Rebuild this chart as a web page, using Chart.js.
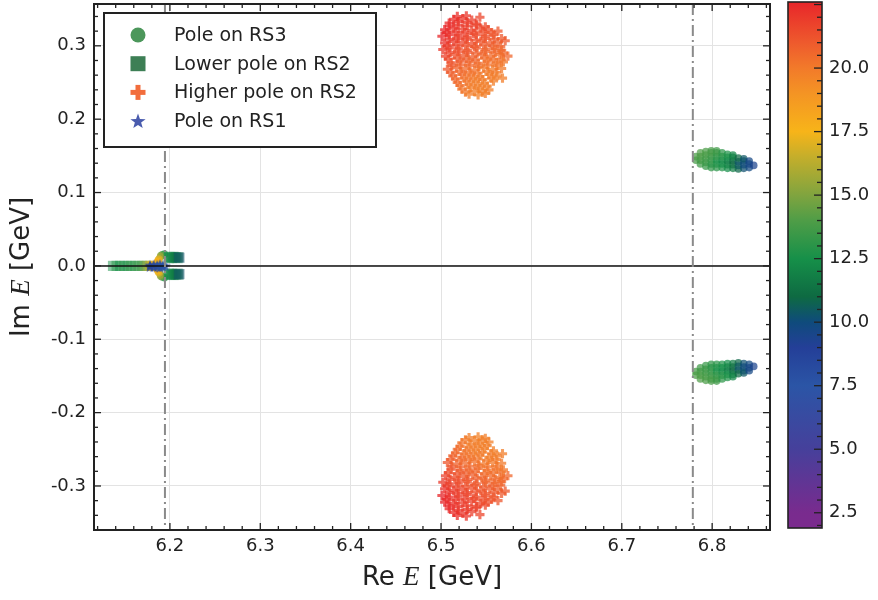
<!DOCTYPE html>
<html>
<head>
<meta charset="utf-8">
<title>Pole positions</title>
<script src="https://cdn.jsdelivr.net/npm/chart.js@4.4.0/dist/chart.umd.min.js"></script>
<style>
  body { margin: 0; background: #fff; }
  #wrap { position: relative; width: 878px; height: 600px; }
  #wrap canvas { position: absolute; top: 0; }
  #poles { left: 0; }
  #cbar { left: 770px; }
</style>
</head>
<body>
<div id="wrap">
  <canvas id="poles" width="878" height="600"></canvas>
  <canvas id="cbar" width="108" height="600"></canvas>
</div>
<script>
// [Re E, Im E, colour value]; poles with Im E > 0 also get their conjugate partner
const rs3Poles = [
  [6.782, 0.144, 13.8], [6.782, 0.149, 13.9],
  [6.787, 0.139, 13.6], [6.787, 0.144, 13.7], [6.787, 0.149, 13.9], [6.787, 0.154, 14.0],
  [6.793, 0.136, 13.4], [6.793, 0.141, 13.5], [6.793, 0.146, 13.6], [6.793, 0.151, 13.8], [6.793, 0.156, 13.9],
  [6.799, 0.134, 13.2], [6.799, 0.139, 13.0], [6.799, 0.144, 13.3], [6.799, 0.149, 13.5], [6.799, 0.154, 13.7], [6.799, 0.157, 13.8],
  [6.805, 0.134, 13.0], [6.805, 0.139, 12.8], [6.805, 0.144, 12.6], [6.805, 0.149, 13.2], [6.805, 0.154, 13.4], [6.805, 0.157, 13.6],
  [6.811, 0.134, 12.8], [6.811, 0.139, 12.5], [6.811, 0.144, 12.3], [6.811, 0.149, 12.9], [6.811, 0.154, 13.1],
  [6.817, 0.133, 12.4], [6.817, 0.138, 12.1], [6.817, 0.143, 11.8], [6.817, 0.148, 12.5], [6.817, 0.152, 12.8],
  [6.823, 0.133, 11.8], [6.823, 0.138, 11.3], [6.823, 0.143, 11.0], [6.823, 0.148, 11.7], [6.823, 0.151, 12.1],
  [6.829, 0.132, 10.9], [6.829, 0.137, 10.5], [6.829, 0.142, 10.4], [6.829, 0.147, 11.0],
  [6.835, 0.133, 10.2], [6.835, 0.138, 10.0], [6.835, 0.143, 10.1], [6.835, 0.146, 10.4],
  [6.841, 0.134, 9.8], [6.841, 0.139, 9.6], [6.841, 0.143, 9.7],
  [6.846, 0.137, 9.4],
  // near the lower threshold
  [6.1915, 0.0150, 14.0], [6.1940, 0.0160, 13.0], [6.1900, 0.0140, 15.0], [6.1895, 0.0125, 15.8],
  [6.1880, 0.0095, 16.8], [6.1872, 0.0080, 17.2], [6.1865, 0.0060, 17.5], [6.1860, 0.0045, 17.8],
  [6.1856, 0.0025, 18.0], [6.1853, 0, 18.3],
  [6.176, 0, 17.0], [6.179, 0, 17.3], [6.182, 0, 17.8]
];

const rs2LowerPoles = [
  [6.137, 0, 12.6], [6.141, 0, 12.9], [6.145, 0, 12.5], [6.149, 0, 13.0], [6.153, 0, 12.7],
  [6.157, 0, 13.2], [6.161, 0, 12.9], [6.165, 0, 13.4], [6.169, 0, 13.6], [6.172, 0, 14.2],
  [6.175, 0, 15.4], [6.178, 0, 16.6], [6.181, 0, 17.3], [6.184, 0, 17.6], [6.187, 0, 17.2],
  [6.1985, 0.0105, 12.5], [6.1995, 0.0122, 12.4], [6.2010, 0.0118, 12.3], [6.2025, 0.0108, 12.2],
  [6.2040, 0.0124, 12.1], [6.2055, 0.0113, 12.0], [6.2070, 0.0118, 11.8], [6.2085, 0.0106, 11.5],
  [6.2095, 0.0120, 10.8], [6.2105, 0.0111, 10.3]
];

const rs2HigherPoles = [
  [6.518, 0.340, 22.4], [6.528, 0.341, 22.1], [6.543, 0.339, 21.6],
  [6.514, 0.336, 22.4], [6.524, 0.337, 22.1], [6.534, 0.335, 21.9],
  [6.509, 0.331, 22.5], [6.519, 0.333, 22.2], [6.529, 0.332, 22.0], [6.539, 0.330, 21.8],
  [6.509, 0.327, 22.5], [6.519, 0.328, 22.1], [6.529, 0.327, 21.9], [6.539, 0.328, 21.7], [6.549, 0.326, 21.5],
  [6.504, 0.322, 22.6], [6.514, 0.324, 22.3], [6.524, 0.323, 22.0], [6.534, 0.321, 21.8], [6.544, 0.324, 21.6], [6.552, 0.322, 21.4], [6.563, 0.320, 21.1],
  [6.506, 0.318, 22.5], [6.516, 0.319, 22.1], [6.526, 0.318, 21.9], [6.536, 0.317, 21.6], [6.546, 0.319, 21.4], [6.556, 0.318, 21.2],
  [6.501, 0.313, 22.6], [6.509, 0.315, 22.4], [6.519, 0.314, 22.0], [6.529, 0.312, 21.7], [6.539, 0.315, 21.5], [6.549, 0.313, 21.3], [6.558, 0.315, 21.1],
  [6.509, 0.309, 22.2], [6.519, 0.310, 21.9], [6.529, 0.309, 21.6], [6.539, 0.308, 21.4], [6.549, 0.310, 21.2], [6.559, 0.309, 21.1], [6.567, 0.310, 21.0],
  [6.504, 0.304, 22.3], [6.514, 0.306, 22.0], [6.524, 0.305, 21.7], [6.534, 0.303, 21.4], [6.544, 0.306, 21.2], [6.554, 0.304, 21.0], [6.563, 0.305, 20.9], [6.571, 0.307, 21.0],
  [6.507, 0.300, 22.0], [6.517, 0.301, 21.7], [6.527, 0.300, 21.4], [6.537, 0.299, 21.2], [6.547, 0.301, 21.0], [6.557, 0.300, 20.9], [6.566, 0.299, 20.8],
  [6.502, 0.295, 22.0], [6.509, 0.297, 21.8], [6.519, 0.296, 21.5], [6.529, 0.294, 21.2], [6.539, 0.297, 21.0], [6.549, 0.295, 20.8], [6.559, 0.296, 20.7], [6.567, 0.294, 20.6],
  [6.510, 0.291, 21.7], [6.520, 0.292, 21.4], [6.530, 0.291, 21.1], [6.540, 0.290, 20.9], [6.550, 0.292, 20.7], [6.560, 0.291, 20.6], [6.569, 0.290, 20.6],
  [6.505, 0.286, 21.8], [6.515, 0.288, 21.4], [6.525, 0.287, 21.1], [6.535, 0.285, 20.9], [6.545, 0.288, 20.7], [6.555, 0.286, 20.5], [6.565, 0.288, 20.4], [6.574, 0.286, 20.6],
  [6.508, 0.282, 21.5], [6.518, 0.283, 21.2], [6.528, 0.282, 20.9], [6.538, 0.281, 20.7], [6.548, 0.283, 20.5], [6.558, 0.282, 20.4], [6.567, 0.281, 20.4],
  [6.511, 0.277, 21.3], [6.521, 0.279, 21.0], [6.531, 0.278, 20.7], [6.541, 0.276, 20.5], [6.551, 0.279, 20.3], [6.561, 0.277, 20.2], [6.569, 0.278, 20.1],
  [6.512, 0.273, 21.1], [6.522, 0.274, 20.8], [6.532, 0.273, 20.6], [6.542, 0.272, 20.4], [6.552, 0.274, 20.3], [6.562, 0.273, 20.2],
  [6.507, 0.268, 21.1], [6.517, 0.270, 20.8], [6.527, 0.269, 20.5], [6.537, 0.267, 20.3], [6.547, 0.270, 20.1], [6.557, 0.268, 20.0], [6.567, 0.269, 20.0],
  [6.511, 0.264, 20.9], [6.521, 0.265, 20.6], [6.531, 0.264, 20.4], [6.541, 0.263, 20.2], [6.551, 0.265, 20.1], [6.561, 0.264, 20.1],
  [6.513, 0.259, 20.8], [6.523, 0.261, 20.5], [6.533, 0.260, 20.2], [6.543, 0.258, 20.0], [6.553, 0.261, 19.9], [6.562, 0.259, 19.9], [6.568, 0.256, 19.9],
  [6.516, 0.255, 20.6], [6.526, 0.256, 20.3], [6.536, 0.255, 20.1], [6.546, 0.254, 20.0], [6.556, 0.256, 20.0],
  [6.518, 0.250, 20.5], [6.528, 0.252, 20.2], [6.538, 0.251, 19.9], [6.548, 0.249, 19.8], [6.558, 0.252, 19.8],
  [6.521, 0.246, 20.4], [6.531, 0.247, 20.1], [6.541, 0.246, 19.9], [6.551, 0.245, 19.9],
  [6.523, 0.241, 20.2], [6.533, 0.243, 19.9], [6.543, 0.242, 19.8], [6.553, 0.240, 19.8],
  [6.527, 0.237, 20.1], [6.537, 0.238, 19.9], [6.546, 0.237, 19.8],
  [6.531, 0.234, 19.9], [6.541, 0.233, 19.7], [6.549, 0.235, 19.8]
];

const rs1Poles = [
  [6.178, 0.0010, 8.8], [6.182, 0.0015, 8.4], [6.186, 0.0010, 8.1],
  [6.189, 0.0020, 7.8], [6.192, 0.0010, 7.5], [6.195, 0, 7.3]
];

// thresholds (dash-dotted)
const thresholds = [6.1945, 6.7786];

const xTicks = [6.2, 6.3, 6.4, 6.5, 6.6, 6.7, 6.8];
const yTicks = [-0.3, -0.2, -0.1, 0.0, 0.1, 0.2, 0.3];
const cbarTicks = [2.5, 5.0, 7.5, 10.0, 12.5, 15.0, 17.5, 20.0];

const xRange = [6.116, 6.864];
const yRange = [-0.36, 0.357];
const cRange = [1.9, 22.6];

const FONT = '"DejaVu Sans", sans-serif';
const INK = '#222222';

const cmapStops = [
  [1.9, '#7b2b8e'], [2.5, '#792b8e'], [5.0, '#46409b'], [7.5, '#2b55a6'],
  [9.0, '#243f98'], [10.0, '#0f4b7c'], [11.0, '#0e6a42'], [12.5, '#169049'],
  [14.0, '#4f9d47'], [15.0, '#80a43f'], [16.5, '#c4ae2b'], [17.5, '#f7b419'],
  [19.0, '#f49424'], [20.0, '#f27a2a'], [21.0, '#ee5a2d'], [22.6, '#e8262a']
];

function hexRgb(h) {
  const n = parseInt(h.slice(1), 16);
  return [n >> 16, (n >> 8) & 255, n & 255];
}

function cmap(v, alpha) {
  const s = cmapStops;
  let lo = s[0], hi = s[s.length - 1];
  if (v <= lo[0]) hi = lo;
  for (let i = 1; i < s.length; i++) {
    if (v <= s[i][0]) { lo = s[i - 1]; hi = s[i]; break; }
  }
  const t = hi[0] === lo[0] ? 0 : Math.min(1, Math.max(0, (v - lo[0]) / (hi[0] - lo[0])));
  const a = hexRgb(lo[1]), b = hexRgb(hi[1]);
  const c = a.map((ch, i) => Math.round(ch + (b[i] - ch) * t));
  return `rgba(${c[0]},${c[1]},${c[2]},${alpha})`;
}

function withConjugates(list) {
  const pts = [];
  list.forEach(([re, im, v]) => {
    pts.push({ x: re, y: im, v });
    if (im > 0) pts.push({ x: re, y: -im, v });
  });
  return pts;
}

function starPath(g, cx, cy, R, r) {
  g.beginPath();
  for (let i = 0; i < 10; i++) {
    const ang = -Math.PI / 2 + i * Math.PI / 5;
    const rad = i % 2 ? r : R;
    g.lineTo(cx + rad * Math.cos(ang), cy + rad * Math.sin(ang));
  }
  g.closePath();
}

const starCache = {};
function starImage(color) {
  if (!starCache[color]) {
    const c = document.createElement('canvas');
    c.width = 12; c.height = 12;
    const g = c.getContext('2d');
    starPath(g, 6, 6.5, 5.8, 2.4);
    g.fillStyle = color;
    g.fill();
    starCache[color] = c;
  }
  return starCache[color];
}

const pointColor = (alpha) => (c) => (c.raw ? cmap(c.raw.v, alpha) : '#000');

function strokeLine(ctx, x1, y1, x2, y2) {
  ctx.beginPath();
  ctx.moveTo(x1, y1);
  ctx.lineTo(x2, y2);
  ctx.stroke();
}

// inward ticks on all four sides, majors on the tick lists, minors every 0.02
function drawFrameTicks(ctx, a, x, y) {
  ctx.strokeStyle = INK;
  ctx.lineWidth = 1.3;
  for (let k = Math.ceil(x.min * 50); k <= Math.floor(x.max * 50); k++) {
    const px = x.getPixelForValue(k / 50);
    const len = k % 5 === 0 ? 7 : 4;
    strokeLine(ctx, px, a.bottom, px, a.bottom - len);
    strokeLine(ctx, px, a.top, px, a.top + len);
  }
  for (let k = Math.ceil(y.min * 50); k <= Math.floor(y.max * 50); k++) {
    const py = y.getPixelForValue(k / 50);
    const len = k % 5 === 0 ? 7 : 4;
    strokeLine(ctx, a.left, py, a.left + len, py);
    strokeLine(ctx, a.right, py, a.right - len, py);
  }
}

function drawMathLabel(ctx, parts, cx, cy) {
  const widths = parts.map(([t, f]) => { ctx.font = f; return ctx.measureText(t).width; });
  const total = widths.reduce((s, w) => s + w, 0);
  let px = cx - total / 2;
  ctx.textBaseline = 'middle';
  ctx.textAlign = 'left';
  parts.forEach(([t, f], i) => {
    ctx.font = f;
    ctx.fillText(t, px, cy);
    px += widths[i];
  });
}

// keep the plot box fixed: no extra room for half tick labels at the ends
const noEndPadding = (s) => {
  s.paddingTop = 0; s.paddingBottom = 0;
  s.paddingLeft = 0; s.paddingRight = 0;
};

const framePlugin = {
  id: 'poleFrame',
  afterDatasetsDraw(chart) {
    const { ctx, chartArea: a, scales: { x, y } } = chart;
    ctx.save();
    ctx.strokeStyle = '#111';
    ctx.lineWidth = 1.5;
    const y0 = y.getPixelForValue(0);
    strokeLine(ctx, a.left, y0, a.right, y0);

    ctx.setLineDash([11, 4, 2, 4]);
    ctx.strokeStyle = '#8a8a8a';
    ctx.lineWidth = 2;
    thresholds.forEach((t) => {
      const px = x.getPixelForValue(t);
      strokeLine(ctx, px, a.top, px, a.bottom);
    });
    ctx.setLineDash([]);

    drawFrameTicks(ctx, a, x, y);
    ctx.strokeStyle = INK;
    ctx.lineWidth = 2;
    ctx.strokeRect(a.left, a.top, a.right - a.left, a.bottom - a.top);
    ctx.restore();
  },
  afterDraw(chart) {
    const { ctx, chartArea: a } = chart;
    ctx.save();
    ctx.fillStyle = INK;
    const normal = `26px ${FONT}`;
    const ital = 'italic 27px "Liberation Serif", serif';
    drawMathLabel(ctx, [['Re ', normal], ['E', ital], [' [GeV]', normal]], (a.left + a.right) / 2, 578);
    ctx.translate(22, (a.top + a.bottom) / 2);
    ctx.rotate(-Math.PI / 2);
    drawMathLabel(ctx, [['Im ', normal], ['E', ital], [' [GeV]', normal]], 0, 0);
    ctx.restore();
  }
};

function drawLegendMarker(ctx, kind, color, cx, cy) {
  ctx.fillStyle = color;
  ctx.beginPath();
  if (kind === 'circle') {
    ctx.arc(cx, cy, 7.5, 0, Math.PI * 2);
    ctx.fill();
  } else if (kind === 'square') {
    ctx.fillRect(cx - 7.5, cy - 7.5, 15, 15);
  } else if (kind === 'plus') {
    ctx.fillRect(cx - 7.5, cy - 2.5, 15, 5);
    ctx.fillRect(cx - 2.5, cy - 7.5, 5, 15);
  } else {
    starPath(ctx, cx, cy + 0.5, 8, 3.3);
    ctx.fill();
  }
}

const legendPlugin = {
  id: 'poleLegend',
  afterDraw(chart) {
    const { ctx, chartArea: a } = chart;
    const left = a.left + 10, top = a.top + 9, w = 272, h = 134;
    ctx.save();
    ctx.fillStyle = '#ffffff';
    ctx.fillRect(left, top, w, h);
    ctx.strokeStyle = INK;
    ctx.lineWidth = 2;
    ctx.strokeRect(left, top, w, h);
    ctx.font = `19px ${FONT}`;
    ctx.textBaseline = 'middle';
    ctx.textAlign = 'left';
    chart.data.datasets.forEach((ds, i) => {
      const cy = top + 22 + i * 28.7;
      drawLegendMarker(ctx, ds.legendShape, ds.legendColor, left + 34, cy);
      ctx.fillStyle = INK;
      ctx.fillText(ds.label, left + 70, cy + 1);
    });
    ctx.restore();
  }
};

const tickFont = { family: FONT, size: 18 };

new Chart(document.getElementById('poles'), {
  type: 'scatter',
  data: {
    datasets: [
      {
        label: 'Pole on RS3',
        data: withConjugates(rs3Poles),
        pointStyle: 'circle',
        pointRadius: 3.8,
        pointBorderWidth: 0,
        pointBackgroundColor: pointColor(0.72),
        legendShape: 'circle',
        legendColor: '#4c975b',
        order: 4
      },
      {
        label: 'Lower pole on RS2',
        data: withConjugates(rs2LowerPoles),
        pointStyle: 'rect',
        pointRadius: 7.2,
        pointBorderWidth: 0,
        pointBackgroundColor: pointColor(0.5),
        legendShape: 'square',
        legendColor: '#3d7f55',
        order: 3
      },
      {
        label: 'Higher pole on RS2',
        data: withConjugates(rs2HigherPoles),
        pointStyle: 'cross',
        pointRadius: 4.6,
        pointBorderWidth: 3.1,
        pointBorderColor: pointColor(0.75),
        legendShape: 'plus',
        legendColor: '#f26d3c',
        order: 2
      },
      {
        label: 'Pole on RS1',
        data: withConjugates(rs1Poles),
        pointStyle: (c) => starImage(c.raw ? cmap(c.raw.v, 0.85) : '#4a5cae'),
        pointRadius: 6,
        legendShape: 'star',
        legendColor: '#4a5cae',
        order: 1
      }
    ]
  },
  options: {
    responsive: false,
    animation: false,
    events: [],
    layout: { autoPadding: false, padding: { left: 0, right: 108, top: 4, bottom: 0 } },
    plugins: { legend: { display: false }, tooltip: { enabled: false } },
    scales: {
      x: {
        type: 'linear',
        min: xRange[0],
        max: xRange[1],
        afterBuildTicks: (s) => { s.ticks = xTicks.map((v) => ({ value: v })); },
        afterFit: (s) => { s.height = 70; noEndPadding(s); },
        ticks: { font: tickFont, color: INK, padding: 6, maxRotation: 0, callback: (v) => v.toFixed(1) },
        grid: { color: '#e3e3e3', lineWidth: 1, drawTicks: false },
        border: { display: false }
      },
      y: {
        type: 'linear',
        min: yRange[0],
        max: yRange[1],
        afterBuildTicks: (s) => { s.ticks = yTicks.map((v) => ({ value: v })); },
        afterFit: (s) => { s.width = 94; noEndPadding(s); },
        ticks: { font: tickFont, color: INK, padding: 8, callback: (v) => v.toFixed(1) },
        grid: { color: '#e3e3e3', lineWidth: 1, drawTicks: false },
        border: { display: false }
      }
    }
  },
  plugins: [framePlugin, legendPlugin]
});

const cbarPlugin = {
  id: 'cbarFill',
  beforeDatasetsDraw(chart) {
    const { ctx, chartArea: a, scales: { y } } = chart;
    const g = ctx.createLinearGradient(0, y.getPixelForValue(cRange[0]), 0, y.getPixelForValue(cRange[1]));
    cmapStops.forEach(([v, c]) => {
      g.addColorStop(Math.min(1, Math.max(0, (v - cRange[0]) / (cRange[1] - cRange[0]))), c);
    });
    ctx.save();
    ctx.fillStyle = g;
    ctx.fillRect(a.left, a.top, a.right - a.left, a.bottom - a.top);
    ctx.restore();
  },
  afterDraw(chart) {
    const { ctx, chartArea: a, scales: { y } } = chart;
    ctx.save();
    ctx.strokeStyle = INK;
    ctx.lineWidth = 1.3;
    for (let k = Math.ceil(y.min * 2); k <= Math.floor(y.max * 2); k++) {
      const py = y.getPixelForValue(k / 2);
      strokeLine(ctx, a.right, py, a.right - (k % 5 === 0 ? 8 : 5), py);
    }
    ctx.lineWidth = 1.6;
    ctx.strokeRect(a.left, a.top, a.right - a.left, a.bottom - a.top);
    ctx.restore();
  }
};

new Chart(document.getElementById('cbar'), {
  type: 'scatter',
  data: { datasets: [] },
  options: {
    responsive: false,
    animation: false,
    events: [],
    layout: { autoPadding: false, padding: { left: 18, right: 0, top: 2, bottom: 72 } },
    plugins: { legend: { display: false }, tooltip: { enabled: false } },
    scales: {
      x: { display: false, min: 0, max: 1 },
      y: {
        position: 'right',
        min: cRange[0],
        max: cRange[1],
        afterBuildTicks: (s) => { s.ticks = cbarTicks.map((v) => ({ value: v })); },
        afterFit: (s) => { s.width = 56; noEndPadding(s); },
        ticks: { font: tickFont, color: INK, padding: 7, callback: (v) => v.toFixed(1) },
        grid: { display: false, drawTicks: false },
        border: { display: false }
      }
    }
  },
  plugins: [cbarPlugin]
});
</script>
</body>
</html>
